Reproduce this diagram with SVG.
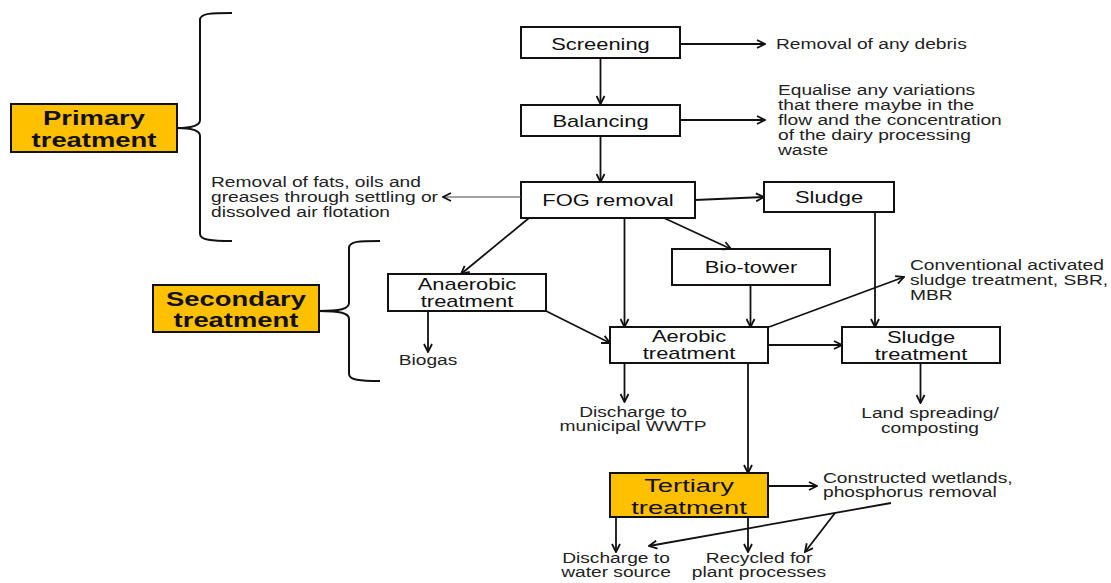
<svg xmlns="http://www.w3.org/2000/svg" width="1111" height="583" viewBox="0 0 1111 583">
<style>
.box{fill:#fff;stroke:#111;stroke-width:2}
.ybox{fill:#FFC000;stroke:#111;stroke-width:2}
.lbl{font-family:"Liberation Sans",Arial,sans-serif;font-size:16px;fill:#111;text-anchor:middle}
.big{font-family:"Liberation Sans",Arial,sans-serif;font-size:20px;fill:#111;text-anchor:middle}
.ter{font-family:"Liberation Sans",Arial,sans-serif;font-size:19px;fill:#111;text-anchor:middle}
.bold{font-weight:bold}
.note{font-family:"Liberation Sans",Arial,sans-serif;font-size:14px;fill:#222}
.mid{text-anchor:middle}
.con path{fill:none;stroke:#111;stroke-width:1.8;marker-end:url(#ah)}
.brace{fill:none;stroke:#111;stroke-width:2}
</style>
<defs>
<marker id="ah" viewBox="0 0 10 10" refX="9" refY="5" markerWidth="10" markerHeight="10" orient="auto" markerUnits="userSpaceOnUse">
<path d="M1,1 L9,5 L1,9" fill="none" stroke="#111" stroke-width="1.8"/>
</marker>
</defs>
<rect width="1111" height="583" fill="#fff"/>

<g id="braces">
<path class="brace" d="M232,13 C212,13 200,13 200,20 L200,120 C200,126 190,128 177,128 C190,128 200,130 200,136 L200,234 C200,240 212,241 232,241"/>
<path class="brace" d="M380,241 C360,241 349,241 349,248 L349,303 C349,309 340,311 319,311 C340,311 349,313 349,319 L349,374 C349,380 360,381 380,381"/>
</g>

<g id="primary">
<rect class="ybox" x="11" y="104" width="166" height="48"/>
<text class="big bold" transform="translate(94 125) scale(1.37 1)">Primary</text>
<text class="big bold" transform="translate(94 147) scale(1.37 1)">treatment</text>
</g>
<g id="secondary">
<rect class="ybox" x="153" y="285" width="166" height="47"/>
<text class="big bold" transform="translate(236 306) scale(1.37 1)">Secondary</text>
<text class="big bold" transform="translate(236 327) scale(1.37 1)">treatment</text>
</g>
<g id="screening">
<rect class="box" x="521" y="27" width="159" height="31"/>
<text class="lbl" transform="translate(600.5 50) scale(1.37 1)">Screening</text>
</g>
<g id="balancing">
<rect class="box" x="521" y="105" width="159" height="31"/>
<text class="lbl" transform="translate(600.5 127) scale(1.37 1)">Balancing</text>
</g>
<g id="fog">
<rect class="box" x="521" y="182" width="174" height="36"/>
<text class="lbl" transform="translate(608 206) scale(1.37 1)">FOG removal</text>
</g>
<g id="sludge">
<rect class="box" x="764" y="182" width="130" height="30"/>
<text class="lbl" transform="translate(829 203) scale(1.37 1)">Sludge</text>
</g>
<g id="biotower">
<rect class="box" x="672" y="249" width="158" height="36"/>
<text class="lbl" transform="translate(751 273) scale(1.37 1)">Bio-tower</text>
</g>
<g id="anaerobic">
<rect class="box" x="388" y="274" width="158" height="37"/>
<text class="lbl" transform="translate(467 290) scale(1.37 1)">Anaerobic</text>
<text class="lbl" transform="translate(467 307) scale(1.37 1)">treatment</text>
</g>
<g id="aerobic">
<rect class="box" x="610" y="327" width="158" height="36"/>
<text class="lbl" transform="translate(689 342) scale(1.37 1)">Aerobic</text>
<text class="lbl" transform="translate(689 359) scale(1.37 1)">treatment</text>
</g>
<g id="sludgetreatment">
<rect class="box" x="842" y="327" width="158" height="36"/>
<text class="lbl" transform="translate(921 343) scale(1.37 1)">Sludge</text>
<text class="lbl" transform="translate(921 360) scale(1.37 1)">treatment</text>
</g>
<g id="tertiary">
<rect class="ybox" x="610" y="473" width="158" height="44"/>
<text class="ter" transform="translate(689 492) scale(1.44 1)">Tertiary</text>
<text class="ter" transform="translate(689 514) scale(1.44 1)">treatment</text>
</g>

<g id="notes">
<text class="note" transform="translate(776 49) scale(1.37 1)">Removal of any debris</text>
<text class="note" transform="translate(778 95) scale(1.37 1)"><tspan x="0" y="0">Equalise any variations</tspan><tspan x="0" y="15">that there maybe in the</tspan><tspan x="0" y="30">flow and the concentration</tspan><tspan x="0" y="45">of the dairy processing</tspan><tspan x="0" y="60">waste</tspan></text>
<text class="note" transform="translate(211 187) scale(1.37 1)"><tspan x="0" y="0">Removal of fats, oils and</tspan><tspan x="0" y="15">greases through settling or</tspan><tspan x="0" y="30">dissolved air flotation</tspan></text>
<text class="note mid" transform="translate(428 365) scale(1.37 1)">Biogas</text>
<text class="note" transform="translate(910 270) scale(1.37 1)"><tspan x="0" y="0">Conventional activated</tspan><tspan x="0" y="15">sludge treatment, SBR,</tspan><tspan x="0" y="30">MBR</tspan></text>
<text class="note mid" transform="translate(633 417) scale(1.37 1)"><tspan x="0" y="0">Discharge to</tspan><tspan x="0" y="14">municipal WWTP</tspan></text>
<text class="note mid" transform="translate(930 418) scale(1.37 1)"><tspan x="0" y="0">Land spreading/</tspan><tspan x="0" y="15">composting</tspan></text>
<text class="note" transform="translate(823 483) scale(1.37 1)"><tspan x="0" y="0">Constructed wetlands,</tspan><tspan x="0" y="14">phosphorus removal</tspan></text>
<text class="note mid" transform="translate(616 563) scale(1.37 1)"><tspan x="0" y="0">Discharge to</tspan><tspan x="0" y="14">water source</tspan></text>
<text class="note mid" transform="translate(759 563) scale(1.37 1)"><tspan x="0" y="0">Recycled for</tspan><tspan x="0" y="14">plant processes</tspan></text>
</g>

<g id="connectors" class="con">
<path d="M600.5,58 L600.5,104"/>
<path d="M680,44 L765,44"/>
<path d="M680,120 L765,120"/>
<path d="M600.5,136 L600.5,182"/>
<path d="M521,197 L443,197" style="stroke:#444;stroke-width:1.2"/>
<path d="M695,200 L764,197"/>
<path d="M529,218 L461,274"/>
<path d="M624.5,218 L624.5,327"/>
<path d="M664,218 L731,249"/>
<path d="M875,212 L875,327"/>
<path d="M428,311 L428,352"/>
<path d="M546,311 L610,343"/>
<path d="M750.5,285 L750.5,327"/>
<path d="M769,327 L904,277"/>
<path d="M768,345 L842,345"/>
<path d="M624.5,363 L624.5,402"/>
<path d="M920.5,363 L920.5,403"/>
<path d="M748,363 L748,473"/>
<path d="M768,486 L817,486"/>
<path d="M616,517 L616,552"/>
<path d="M748,517 L748,552"/>
<path d="M891,503 L649,546"/>
<path d="M835,513 L805,552"/>
</g>
</svg>
